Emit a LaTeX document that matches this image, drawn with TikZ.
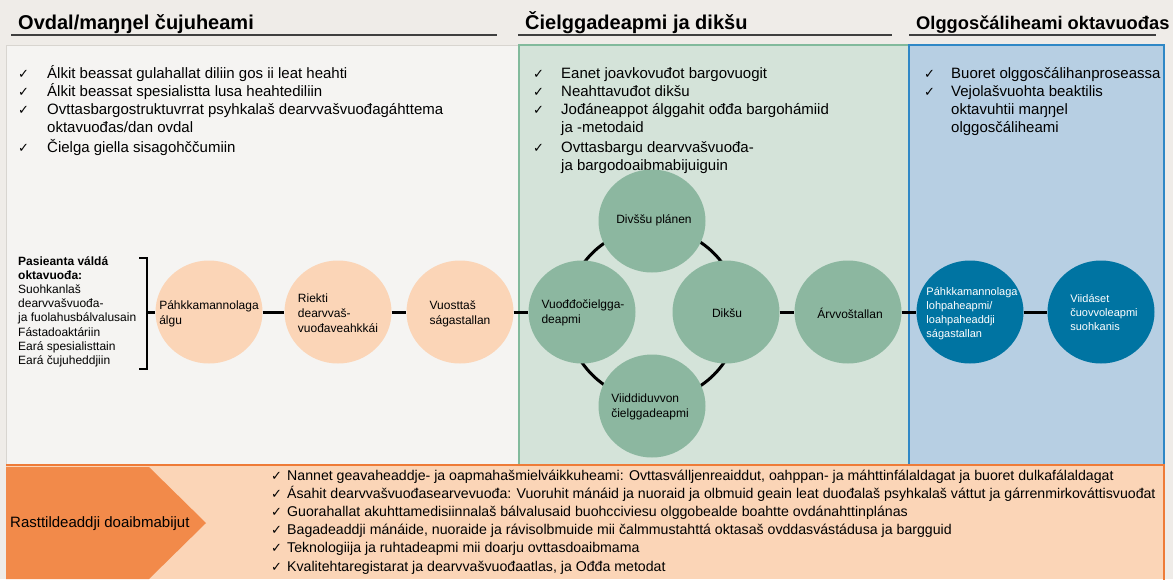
\documentclass[tikz,border=0pt]{standalone}
\usepackage{fontspec}
\setmainfont{Liberation Sans}
\newfontfamily\dejavu{DejaVu Sans}
\usetikzlibrary{shapes.geometric}
\definecolor{bg}{HTML}{EFECE8}
\definecolor{leftfill}{HTML}{F5F4F2}
\definecolor{leftborder}{HTML}{D8D5D0}
\definecolor{midfill}{HTML}{D4E3D9}
\definecolor{midborder}{HTML}{82BA9C}
\definecolor{rightfill}{HTML}{B7CFE3}
\definecolor{rightborder}{HTML}{2F88C6}
\definecolor{peach}{HTML}{FBD5B7}
\definecolor{sage}{HTML}{8CB7A0}
\definecolor{tealc}{HTML}{0074A2}
\definecolor{orangearrow}{HTML}{F28A4A}
\definecolor{orangeline}{HTML}{EE7B38}
\definecolor{hdrline}{HTML}{3F3F3F}
\tikzset{
 hdr/.style={anchor=base west, inner sep=0pt, font=\fontsize{20}{24}\selectfont\bfseries},
 hline/.style={draw=hdrline, line width=2pt},
 ck/.style={anchor=base west, inner sep=0pt, font=\dejavu\fontsize{13}{15}\selectfont},
 item/.style={anchor=base west, inner sep=0pt, font=\fontsize{15}{18}\selectfont},
 bitem/.style={anchor=base west, inner sep=0pt, font=\fontsize{14.15}{17}\selectfont},
 lefttxt/.style={anchor=base west, inner sep=0pt, font=\fontsize{12}{14}\selectfont},
 circ/.style={ellipse, minimum width=107pt, minimum height=103pt, inner sep=0pt},
 pc/.style={circ, fill=peach},
 gc/.style={circ, fill=sage},
 bc/.style={circ, fill=tealc},
 ctext/.style={inner sep=0pt, align=left, font=\fontsize{12}{15}\selectfont},
 btext/.style={inner sep=0pt, align=left, text=white, font=\fontsize{11}{14}\selectfont},
 conn/.style={line width=3pt, draw=black},
}
\newcommand{\bul}[5]{\node[ck] (#1c) at (#2,#4) {✓}; \node[item] (#1) at (#3,#4) {#5};}
\newcommand{\bbul}[3]{\node[ck] (#1c) at (271,#2) {✓}; \node[bitem] (#1) at (287,#2) {#3};}
\begin{document}
\begin{tikzpicture}[x=1pt,y=-1pt]
\useasboundingbox (0,0) rectangle (1173,579);
\fill[bg] (0,0) rectangle (1173,579);
% panels
\filldraw[fill=leftfill, draw=leftborder, line width=1pt] (6,45) rectangle (519,465);
\filldraw[fill=midfill, draw=midborder, line width=1.3pt] (519,45) rectangle (909,465);
\filldraw[fill=rightfill, draw=rightborder, line width=1.3pt] (909,45) rectangle (1164,465);
% bottom band
\fill[peach] (6,465) rectangle (1164,579);
\draw[orangeline, line width=1.5pt] (6,465) -- (1164,465) -- (1164,580);
\fill[orangearrow] (6,467) -- (149,467) -- (206,523) -- (149,579) -- (6,579) -- cycle;
\node[anchor=base west, inner sep=0pt, font=\fontsize{15}{18}\selectfont] (rast) at (10,527) {Rasttildeaddji doaibmabijut};
% headers
\node[hdr] (h1) at (18,29) {Ovdal/maŋŋel čujuheami};
\node[hdr] (h2) at (525,29) {Čielggadeapmi ja dikšu};
\node[hdr, font=\fontsize{18.3}{22}\selectfont\bfseries] (h3) at (916,29) {Olggosčáliheami oktavuođas};
\draw[hline] (11,35) -- (497,35);
\draw[hline] (518,35) -- (892,35);
\draw[hline] (909,35) -- (1156,35);
% left list
\bul{la}{18}{47}{78}{Álkit beassat gulahallat diliin gos ii leat heahti}
\bul{lb}{18}{47}{96}{Álkit beassat spesialistta lusa heahtediliin}
\bul{lc}{18}{47}{114}{Ovttasbargostruktuvrrat psyhkalaš dearvvašvuođagáhttema}
\node[item] (lc2) at (47,132) {oktavuođas/dan ovdal};
\bul{ld}{18}{47}{152}{Čielga giella sisagohččumiin}
% middle list
\bul{ma}{533}{561}{78}{Eanet joavkovuđot bargovuogit}
\bul{mb}{533}{561}{96}{Neahttavuđot dikšu}
\bul{mc}{533}{561}{114}{Jođáneappot álggahit ođđa bargohámiid}
\node[item] (mc2) at (561,132) {ja -metodaid};
\bul{md}{533}{561}{152}{Ovttasbargu dearvvašvuođa-}
\node[item] (md2) at (561,170) {ja bargodoaibmabijuiguin};
% right list
\bul{ra}{924}{951}{78}{Buoret olggosčálihanproseassa}
\bul{rb}{924}{951}{96}{Vejolašvuohta beaktilis}
\node[item] (rb2) at (951,114) {oktavuhtii maŋŋel};
\node[item] (rb3) at (951,132) {olggosčáliheami};
% left block
\node[lefttxt, font=\fontsize{12}{14}\selectfont\bfseries] (t1) at (18,265) {Pasieanta váldá};
\node[lefttxt, font=\fontsize{12}{14}\selectfont\bfseries] (t2) at (18,279.2) {oktavuođa:};
\node[lefttxt] (t3) at (18,293.4) {Suohkanlaš};
\node[lefttxt] (t4) at (18,307.6) {dearvvašvuođa-};
\node[lefttxt] (t5) at (18,321.8) {ja fuolahusbálvalusain};
\node[lefttxt] (t6) at (18,336) {Fástadoaktáriin};
\node[lefttxt] (t7) at (18,350.2) {Eará spesialisttain};
\node[lefttxt] (t8) at (18,364.4) {Eará čujuheddjiin};
\draw[line width=2.5pt] (139,258) -- (147,258) -- (147,369) -- (139,369);
\coordinate (brk) at (147,312);
% ring
\node[circle, draw=black, line width=3pt, minimum size=172pt, inner sep=0pt] (ring) at (653,314) {};
% circles
\node[pc] (p1) at (209,312) {};
\node[pc] (p2) at (338,312) {};
\node[pc] (p3) at (460,312) {};
\node[gc] (g1) at (582,312) {};
\node[gc] (g2) at (652,221) {};
\node[gc] (g3) at (726,312) {};
\node[gc] (g4) at (652,406) {};
\node[gc] (g5) at (848,312) {};
\node[bc] (b1) at (970,312) {};
\node[bc] (b2) at (1101,312) {};
% connectors
\draw[conn] (brk) -- (p1);
\draw[conn] (p1) -- (p2);
\draw[conn] (p2) -- (p3);
\draw[conn] (p3) -- (g1);
\draw[conn] (g3) -- (g5);
\draw[conn] (g5) -- (b1);
\draw[conn] (b1) -- (b2);
% circle texts
\node[ctext] (p1t) at (209,314) {Páhkkamannolaga\\álgu};
\node[ctext] (p2t) at (338,313) {Riekti\\dearvvaš-\\vuođaveahkkái};
\node[ctext] (p3t) at (460,314) {Vuosttaš\\ságastallan};
\node[ctext] (g1t) at (583,313) {Vuođđočielgga-\\deapmi};
\node[ctext] (g2t) at (654,220) {Divššu plánen};
\node[ctext] (g3t) at (727,313) {Dikšu};
\node[ctext] (g4t) at (650,407) {Viiddiduvvon\\čielggadeapmi};
\node[ctext] (g5t) at (850,313) {Árvvoštallan};
\node[btext] (b1t) at (972,314) {Páhkkamannolaga\\lohpaheapmi/\\loahpaheaddji\\ságastallan};
\node[btext] (b2t) at (1104,312) {Viidáset\\čuovvoleapmi\\suohkanis};
% bottom list
\bbul{ba}{480}{Nannet geavaheaddje- ja oapmahašmielváikkuheami: Ovttasválljenreaiddut, oahppan- ja máhttinfálaldagat ja buoret dulkafálaldagat}
\bbul{bb}{498.2}{Ásahit dearvvašvuođasearvevuođa: Vuoruhit mánáid ja nuoraid ja olbmuid geain leat duođalaš psyhkalaš váttut ja gárrenmirkováttisvuođat}
\bbul{bc}{516.4}{Guorahallat akuhttamedisiinnalaš bálvalusaid buohcciviesu olggobealde boahtte ovdánahttinplánas}
\bbul{bd}{534.6}{Bagadeaddji mánáide, nuoraide ja rávisolbmuide mii čalmmustahttá oktasaš ovddasvástádusa ja bargguid}
\bbul{be}{552.8}{Teknologiija ja ruhtadeapmi mii doarju ovttasdoaibmama}
\bbul{bf}{571}{Kvalitehtaregistarat ja dearvvašvuođaatlas, ja Ođđa metodat}
\end{tikzpicture}
\end{document}
